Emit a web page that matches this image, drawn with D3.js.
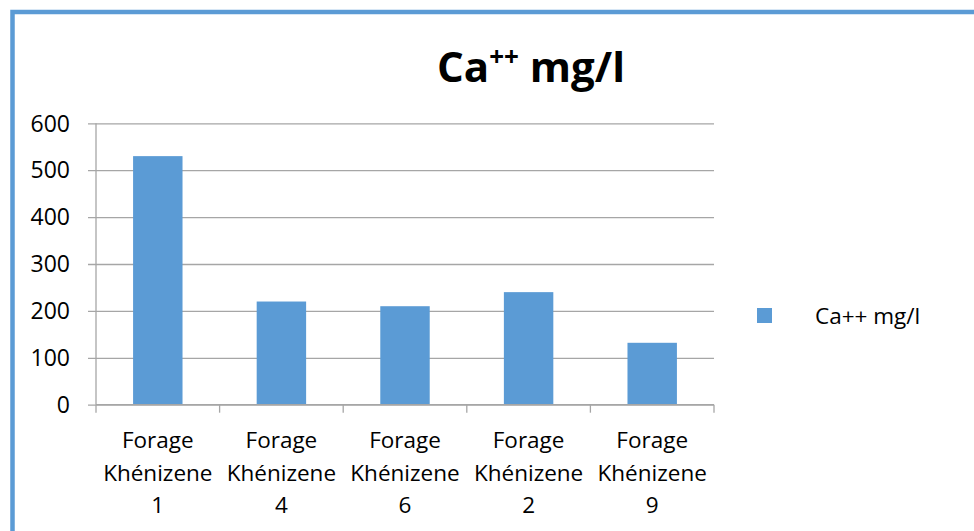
<!DOCTYPE html>
<html>
<head>
<meta charset="utf-8">
<script src="https://cdn.jsdelivr.net/npm/d3@7/dist/d3.min.js"></script>
<style>
  html, body { margin: 0; padding: 0; background: #fff; }
  svg { display: block; }
  text { font-family: "Open Sans", "Noto Sans", sans-serif; fill: #000; }
</style>
</head>
<body>
<svg id="chart" width="974" height="531"></svg>
<script>
// Calcium concentration per borehole
const categories = ["Forage Khénizene 1", "Forage Khénizene 4", "Forage Khénizene 6", "Forage Khénizene 2", "Forage Khénizene 9"];
const categoryLines = [
  ["Forage", "Khénizene", "1"],
  ["Forage", "Khénizene", "4"],
  ["Forage", "Khénizene", "6"],
  ["Forage", "Khénizene", "2"],
  ["Forage", "Khénizene", "9"]
];
const calcium = [530, 220, 210, 240, 132];
const yTicks = [0, 100, 200, 300, 400, 500, 600];
const seriesName = "Ca++ mg/l";

const W = 974, H = 531;
const plot = { left: 96, right: 714, top: 123.3, bottom: 404.7 };
const barColor = "#5b9bd5";
const gridColor = "#a6a6a6";

const svg = d3.select("#chart");

// outer frame (open towards right and bottom edges)
svg.append("rect")
  .attr("x", 12.5).attr("y", 12)
  .attr("width", W + 20).attr("height", H + 20)
  .attr("fill", "#fff")
  .attr("stroke", barColor)
  .attr("stroke-width", 4.5);

const x = d3.scaleBand()
  .domain(categories)
  .range([plot.left, plot.right])
  .paddingInner(0.6)
  .paddingOuter(0.3);

const y = d3.scaleLinear()
  .domain([0, 600])
  .range([plot.bottom, plot.top]);

// horizontal gridlines with left tick marks
const yAxis = d3.axisLeft(y)
  .tickValues(yTicks)
  .tickSize(-(plot.right - plot.left))
  .tickSizeOuter(0)
  .tickFormat("");
const gy = svg.append("g")
  .attr("transform", `translate(${plot.left},0)`)
  .call(yAxis);
gy.select(".domain").remove();
gy.selectAll(".tick line")
  .attr("x1", -8)
  .attr("stroke", gridColor)
  .attr("stroke-width", 1.3);

// vertical axis line
svg.append("line")
  .attr("x1", plot.left).attr("x2", plot.left)
  .attr("y1", plot.top).attr("y2", plot.bottom)
  .attr("stroke", gridColor).attr("stroke-width", 1.3);

// y tick labels
svg.append("g").selectAll("text")
  .data(yTicks)
  .join("text")
  .attr("x", 70)
  .attr("y", d => y(d))
  .attr("dy", "0.36em")
  .attr("text-anchor", "end")
  .style("font-size", "23px")
  .text(d => d);

// bars
svg.append("g").selectAll("rect")
  .data(calcium)
  .join("rect")
  .attr("x", (d, i) => x(categories[i]))
  .attr("width", x.bandwidth())
  .attr("y", d => y(d))
  .attr("height", d => y(0) - y(d))
  .attr("fill", barColor);

// category axis with separators between groups
const step = x.step();
const bounds = d3.range(categories.length + 1).map(i => plot.left + i * step);
svg.append("line")
  .attr("x1", plot.left).attr("x2", plot.right)
  .attr("y1", plot.bottom).attr("y2", plot.bottom)
  .attr("stroke", gridColor).attr("stroke-width", 1.3);
svg.append("g").selectAll("line")
  .data(bounds)
  .join("line")
  .attr("x1", d => d).attr("x2", d => d)
  .attr("y1", plot.bottom).attr("y2", plot.bottom + 8)
  .attr("stroke", gridColor).attr("stroke-width", 1.3);

// category labels (three lines each)
const xl = svg.append("g").selectAll("text")
  .data(categoryLines)
  .join("text")
  .attr("text-anchor", "middle")
  .style("font-size", "22.5px");
xl.selectAll("tspan")
  .data((d, i) => d.map(s => ({ s, i })))
  .join("tspan")
  .attr("x", d => x(categories[d.i]) + x.bandwidth() / 2)
  .attr("y", (d, j) => 448 + j * 32.5)
  .text(d => d.s);

// title with superscript charge
const title = svg.append("text")
  .attr("x", 531)
  .attr("y", 82)
  .attr("text-anchor", "middle")
  .style("font-size", "42px")
  .style("font-weight", "bold");
title.append("tspan").text("Ca");
title.append("tspan").attr("dy", -16).style("font-size", "26px").text("++");
title.append("tspan").attr("dy", 16).text(" mg/l");

// legend
const legend = svg.append("g");
legend.append("rect")
  .attr("x", 757).attr("y", 308)
  .attr("width", 15).attr("height", 15)
  .attr("fill", barColor);
legend.append("text")
  .attr("x", 815).attr("y", 315.5)
  .attr("dy", "0.36em")
  .style("font-size", "22.5px")
  .text(seriesName);
</script>
</body>
</html>
